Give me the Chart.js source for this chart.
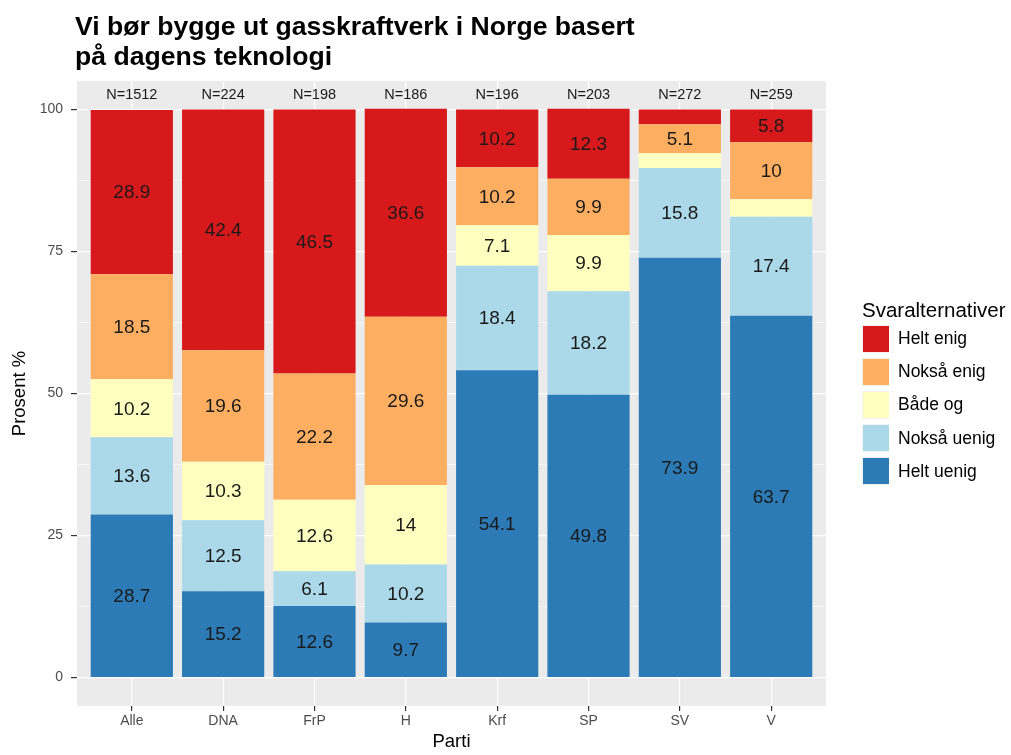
<!DOCTYPE html>
<html><head><meta charset="utf-8">
<script src="https://cdn.jsdelivr.net/npm/chart.js@4"></script>
<style>
html,body{margin:0;padding:0;background:#fff;}
#wrap{position:relative;width:1011px;height:755px;font-family:"Liberation Sans",Arial,Helvetica,sans-serif;overflow:hidden;}
#c{position:absolute;left:0;top:0;}
#title{position:absolute;left:75px;top:11px;font-weight:bold;font-size:26.6px;line-height:30px;color:#000;white-space:nowrap;}
#legend{position:absolute;left:862px;top:298px;color:#000;}
#legend .lt{font-size:20.5px;line-height:24px;height:24px;}
#legend .row{display:flex;align-items:center;height:33.2px;}
#legend .key{width:27px;height:28px;background:#f2f2f2;display:flex;align-items:center;justify-content:center;}
#legend .sw{width:26px;height:26px;}
#legend .lab{font-size:17.5px;margin-left:9px;}
</style></head>
<body>
<div id="wrap">
<canvas id="c" width="1011" height="755"></canvas>
<div id="title">Vi bør bygge ut gasskraftverk i Norge basert<br>på dagens teknologi</div>
<div id="legend"></div>
</div>
<script>
const categories = ['Alle','DNA','FrP','H','Krf','SP','SV','V'];
const nLabels = ['N=1512','N=224','N=198','N=186','N=196','N=203','N=272','N=259'];
const seriesNames = ['Helt uenig','Nokså uenig','Både og','Nokså enig','Helt enig'];
const seriesColors = ['#2C7BB6','#ABD9E9','#FFFFBF','#FDAE61','#D7191C'];
const heltUenig  = [28.7,15.2,12.6,9.7,54.1,49.8,73.9,63.7];
const noksaUenig = [13.6,12.5,6.1,10.2,18.4,18.2,15.8,17.4];
const badeOg     = [10.2,10.3,12.6,14,7.1,9.9,2.6,3.1];
const noksaEnig  = [18.5,19.6,22.2,29.6,10.2,9.9,5.1,10];
const heltEnig   = [28.9,42.4,46.5,36.6,10.2,12.3,2.6,5.8];
const yTicks = [0,12.5,25,37.5,50,62.5,75,87.5,100];

const seriesValues = [heltUenig,noksaUenig,badeOg,noksaEnig,heltEnig];
const FONT = '"Liberation Sans", Arial, Helvetica, sans-serif';

const datasets = seriesValues.map((vals,si)=>({
  label: seriesNames[si],
  data: vals.map((v,i)=>({x:i+1,y:v})),
  backgroundColor: seriesColors[si],
  borderWidth: 0,
  stack: 's',
  barPercentage: 0.9,
  categoryPercentage: 1.0
}));

const panelBg = {
  id:'panelBg',
  beforeDraw(chart){
    const {ctx, chartArea:a} = chart;
    ctx.save(); ctx.fillStyle='#EBEBEB';
    ctx.fillRect(a.left,a.top,a.right-a.left,a.bottom-a.top);
    ctx.restore();
  }
};
const labelsPlugin = {
  id:'labelsPlugin',
  afterDatasetsDraw(chart){
    const ctx = chart.ctx;
    ctx.save();
    ctx.font = '19px '+FONT;
    ctx.fillStyle = '#1a1a1a';
    ctx.textAlign='center'; ctx.textBaseline='middle';
    chart.data.datasets.forEach((ds,di)=>{
      const meta = chart.getDatasetMeta(di);
      meta.data.forEach((el,i)=>{
        const v = ds.data[i].y;
        if (v < 5) return;
        const p = el.getProps(['x','y','base'],true);
        ctx.fillText(String(v), p.x, (p.y+p.base)/2 + 1);
      });
    });
    ctx.font = '14.5px '+FONT;
    ctx.fillStyle = '#1a1a1a';
    const ys = chart.scales.y.getPixelForValue(102.6);
    nLabels.forEach((t,i)=>{
      ctx.fillText(t, chart.scales.x.getPixelForValue(i+1), ys);
    });
    ctx.restore();
  }
};

new Chart(document.getElementById('c'), {
  type:'bar',
  data:{datasets},
  options:{
    responsive:false, animation:false,
    layout:{padding:{left:0,right:185,top:81,bottom:0}},
    plugins:{legend:{display:false}, title:{display:false}, tooltip:{enabled:false}},
    scales:{
      x:{
        type:'linear', min:0.4, max:8.6, stacked:true, offset:false,
        afterBuildTicks(s){ s.ticks = categories.map((c,i)=>({value:i+1})); },
        afterFit(s){ s.height = 49; },
        ticks:{ autoSkip:false, maxRotation:0, padding:2, color:'#4D4D4D', font:{family:FONT,size:14},
          callback:(v)=>categories[Math.round(v)-1] },
        grid:{ offset:false, color:'#FFFFFF', lineWidth:1.2, tickLength:5, tickColor:'#333333', drawTicks:true },
        border:{display:false},
        title:{display:true, text:'Parti', color:'#000', font:{family:FONT,size:18.5}, padding:{top:0,bottom:2}}
      },
      y:{
        type:'linear', min:-5, max:105, stacked:true,
        afterBuildTicks(s){ s.ticks = yTicks.map(v=>({value:v})); },
        afterFit(s){ s.width = 77; },
        ticks:{ autoSkip:false, padding:8, color:'#4D4D4D', font:{family:FONT,size:14},
          callback:(v)=> (v%25===0 ? String(v) : '') },
        grid:{ color:'#FFFFFF', lineWidth:(c)=> (c.tick && c.tick.value%25===0 ? 1.2 : 0.6),
          tickLength:6, tickColor:(c)=> (c.tick && c.tick.value%25===0 ? '#333333' : 'rgba(0,0,0,0)') },
        border:{display:false},
        title:{display:true, text:'Prosent %', color:'#000', font:{family:FONT,size:18.5}, padding:{top:9,bottom:4}}
      }
    }
  },
  plugins:[panelBg, labelsPlugin]
});

// legend (reversed order, as in reference)
const lg = document.getElementById('legend');
let html = '<div class="lt">Svaralternativer</div>';
for (let si = seriesNames.length-1; si>=0; si--) {
  html += '<div class="row"><span class="key"><span class="sw" style="background:'+seriesColors[si]+'"></span></span><span class="lab">'+seriesNames[si]+'</span></div>';
}
lg.innerHTML = html;
</script>
</body></html>
